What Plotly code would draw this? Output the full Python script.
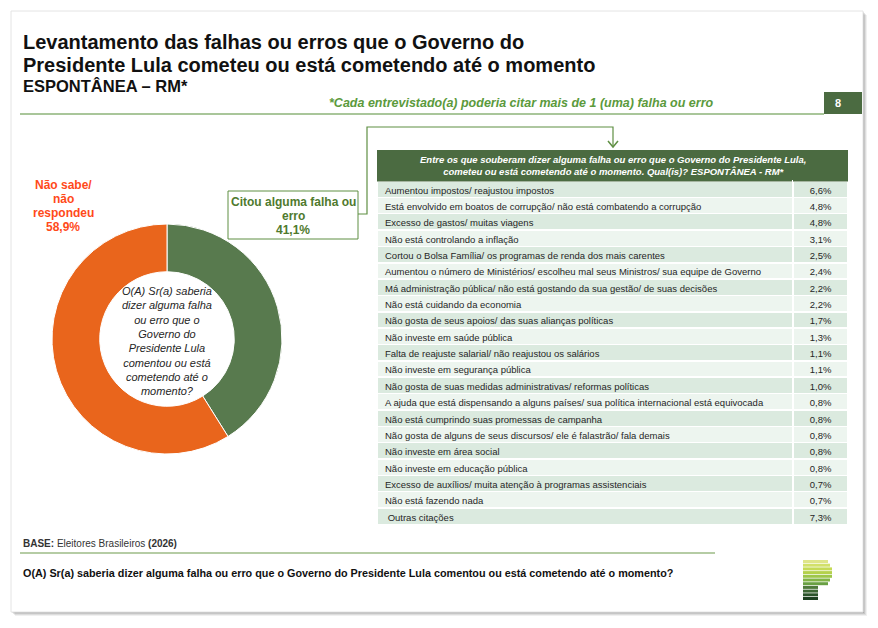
import plotly.graph_objects as go

W, H = 878, 628

# ---------------- data ----------------
pie_labels = ["Citou alguma falha ou erro", "Não sabe/ não respondeu"]
pie_values = [41.1, 58.9]

categories = [
    "Aumentou impostos/ reajustou impostos",
    "Está envolvido em boatos de corrupção/ não está combatendo a corrupção",
    "Excesso de gastos/ muitas viagens",
    "Não está controlando a inflação",
    "Cortou o Bolsa Família/ os programas de renda dos mais carentes",
    "Aumentou o número de Ministérios/ escolheu mal seus Ministros/ sua equipe de Governo",
    "Má administração pública/ não está gostando da sua gestão/ de suas decisões",
    "Não está cuidando da economia",
    "Não gosta de seus apoios/ das suas alianças políticas",
    "Não investe em saúde pública",
    "Falta de reajuste salarial/ não reajustou os salários",
    "Não investe em segurança pública",
    "Não gosta de suas medidas administrativas/ reformas políticas",
    "A ajuda que está dispensando a alguns países/ sua política internacional está equivocada",
    "Não está cumprindo suas promessas de campanha",
    "Não gosta de alguns de seus discursos/ ele é falastrão/ fala demais",
    "Não investe em área social",
    "Não investe em educação pública",
    "Excesso de auxílios/ muita atenção à programas assistenciais",
    "Não está fazendo nada",
    " Outras citações",
]
values = [6.6, 4.8, 4.8, 3.1, 2.5, 2.4, 2.2, 2.2, 1.7, 1.3, 1.1, 1.1, 1.0,
          0.8, 0.8, 0.8, 0.8, 0.8, 0.7, 0.7, 7.3]

table_header = ("Entre os que souberam dizer alguma falha ou erro que o Governo do Presidente Lula,<br>"
                "cometeu ou está cometendo até o momento. Qual(is)? ESPONTÂNEA - RM*")

donut_center_lines = ["O(A) Sr(a) saberia", "dizer alguma falha", "ou erro que o", "Governo do",
                      "Presidente Lula", "comentou ou está", "cometendo até o", "momento?"]
label_nao_sabe = ["Não sabe/", "não", "respondeu", "58,9%"]
label_citou = ["Citou alguma falha ou", "erro", "41,1%"]

logo_widths = [25, 27, 29, 29, 29, 27, 25, 15, 15, 15, 15]
logo_colors = ["#dfe58a", "#d2e06a", "#c5da55", "#b4d14c", "#9dc64a", "#82b446",
               "#69a043", "#4f7a3c", "#3c6633", "#2b532a", "#1d4021"]

# ---------------- helpers ----------------
def px(x):
    return x / W

def py(y):
    return 1 - y / H

SANS = "Liberation Sans, Arial, sans-serif"
DARK_GREEN = "#4b6b41"
LINE_GREEN = "#5f8f43"

fig = go.Figure()

# ---------------- donut ----------------
cx, cy, r = 167, 339, 115
fig.add_trace(go.Pie(
    labels=pie_labels, values=pie_values, hole=0.585, sort=False,
    direction="clockwise", rotation=0, textinfo="none", showlegend=False,
    marker=dict(colors=["#587a4e", "#e9651c"], line=dict(color="white", width=1)),
    domain=dict(x=[px(cx - r), px(cx + r)], y=[py(cy + r), py(cy - r)]),
    hoverinfo="label+percent",
))

# ---------------- table ----------------
ROW_H = 16.35
HEAD_H = 31
T_TOP = 150
T_BOT = T_TOP + HEAD_H + ROW_H * len(categories) + 4
row_fill = ["#dbeadf" if i % 2 == 0 else "#edf5ef" for i in range(len(categories))]
val_text = [f"{v:.1f}%".replace(".", ",") for v in values]
blank = ["" for _ in categories]

# background cells + header band
fig.add_trace(go.Table(
    domain=dict(x=[px(377), px(849)], y=[py(T_BOT), py(T_TOP)]),
    columnwidth=[417, 55],
    header=dict(values=["", ""], fill_color=DARK_GREEN,
                line=dict(color=DARK_GREEN, width=0.5), height=HEAD_H,
                font=dict(family=SANS, size=9.5, color="white")),
    cells=dict(
        values=[blank, blank],
        fill_color=[row_fill, row_fill],
        line=dict(color="white", width=1.5),
        font=dict(family=SANS, size=9.5, color="#262626"),
        align=["left", "center"], height=ROW_H,
    ),
))
# text layer (slightly raised to centre text in rows)
SHIFT = 2.5
fig.add_trace(go.Table(
    domain=dict(x=[px(377), px(849)], y=[py(T_BOT - SHIFT), py(T_TOP - SHIFT)]),
    columnwidth=[417, 55],
    header=dict(values=["", ""], fill_color="rgba(0,0,0,0)",
                line=dict(color="rgba(0,0,0,0)", width=0), height=HEAD_H,
                font=dict(family=SANS, size=9.5, color="white")),
    cells=dict(
        values=[categories, val_text],
        fill_color="rgba(0,0,0,0)",
        line=dict(color="rgba(0,0,0,0)", width=0),
        font=dict(family=SANS, size=9.5, color="#262626"),
        align=["left", "center"], height=ROW_H,
    ),
))

shapes = []
annotations = []

# card shadow + card
for i, op in enumerate([0.06, 0.08, 0.10, 0.12]):
    d = 4 - i
    shapes.append(dict(type="rect", xref="paper", yref="paper",
                       x0=px(11 + d), x1=px(863 + d), y0=py(612 + d), y1=py(11 + d),
                       fillcolor=f"rgba(0,0,0,{op})", line=dict(width=0), layer="below"))
shapes.append(dict(type="rect", xref="paper", yref="paper",
                   x0=px(11), x1=px(863), y0=py(612), y1=py(11),
                   fillcolor="white", line=dict(color="#e4e4e4", width=1), layer="below"))

# table header text
annotations.append(dict(text="<b><i>" + table_header + "</i></b>", x=px(613), y=py(165.5),
                        xanchor="center", yanchor="middle", align="center",
                        font=dict(family=SANS, size=9.5, color="white")))

# header line and page box
shapes.append(dict(type="line", xref="paper", yref="paper", x0=px(20), x1=px(824),
                   y0=py(114), y1=py(114), line=dict(color="#8db378", width=1.5)))
shapes.append(dict(type="rect", xref="paper", yref="paper", x0=px(824), x1=px(862),
                   y0=py(114), y1=py(92), fillcolor=DARK_GREEN, line=dict(width=0)))
annotations.append(dict(text="<b>8</b>", x=px(843), y=py(103), yanchor="middle",
                        font=dict(family=SANS, size=11, color="white")))

# bottom line
shapes.append(dict(type="line", xref="paper", yref="paper", x0=px(20), x1=px(715),
                   y0=py(553), y1=py(553), line=dict(color="#9dbb86", width=1.5)))

# green label box
shapes.append(dict(type="rect", xref="paper", yref="paper", x0=px(228), x1=px(358),
                   y0=py(239), y1=py(191), fillcolor="white",
                   line=dict(color=LINE_GREEN, width=1)))
# connector
shapes.append(dict(type="path", xref="paper", yref="paper",
                   path=f"M {px(358)},{py(214)} L {px(367)},{py(214)} L {px(367)},{py(127)} "
                        f"L {px(613)},{py(127)} L {px(613)},{py(147)}",
                   line=dict(color=LINE_GREEN, width=1.2)))
shapes.append(dict(type="path", xref="paper", yref="paper",
                   path=f"M {px(608)},{py(141)} L {px(613)},{py(147)} L {px(618)},{py(141)}",
                   line=dict(color=LINE_GREEN, width=1.5)))

# logo bars
ly = 560
for w, c in zip(logo_widths, logo_colors):
    shapes.append(dict(type="rect", xref="paper", yref="paper", x0=px(803), x1=px(803 + w),
                       y0=py(ly + 3), y1=py(ly), fillcolor=c, line=dict(width=0)))
    ly += 3.7

# ---------------- texts ----------------
annotations += [
    dict(text="<b>Levantamento das falhas ou erros que o Governo do</b>",
         x=px(21), y=py(42), xanchor="left", yanchor="middle",
         font=dict(family=SANS, size=20, color="#111111")),
    dict(text="<b>Presidente Lula cometeu ou está cometendo até o momento</b>",
         x=px(21), y=py(65), xanchor="left", yanchor="middle",
         font=dict(family=SANS, size=20, color="#111111")),
    dict(text="<b>ESPONTÂNEA – RM*</b>", x=px(21), y=py(86), xanchor="left", yanchor="middle",
         font=dict(family=SANS, size=16.5, color="#111111")),
    dict(text="<b><i>*Cada entrevistado(a) poderia citar mais de 1 (uma) falha ou erro</i></b>",
         x=px(716), y=py(103), xanchor="right", yanchor="middle",
         font=dict(family=SANS, size=12.5, color="#5b9a3c")),
    dict(text="<b>BASE:</b> Eleitores Brasileiros <b>(2026)</b>", x=px(21), y=py(543),
         xanchor="left", yanchor="middle", font=dict(family=SANS, size=10, color="#333333")),
    dict(text="<b>O(A) Sr(a) saberia dizer alguma falha ou erro que o Governo do Presidente Lula "
              "comentou ou está cometendo até o momento?</b>",
         x=px(21), y=py(573), xanchor="left", yanchor="middle",
         font=dict(family=SANS, size=10.8, color="#111111")),
    dict(text="<i>" + "<br>".join(donut_center_lines) + "</i>", x=px(cx), y=py(cy + 2),
         xanchor="center", yanchor="middle", align="center",
         font=dict(family=SANS, size=11, color="#262626")),
]
for i, t in enumerate(label_nao_sabe):
    annotations.append(dict(text=f"<b>{t}</b>", x=px(63), y=py(185 + 14 * i),
                            xanchor="center", yanchor="middle",
                            font=dict(family=SANS, size=12, color="#ff4a1a")))
for i, t in enumerate(label_citou):
    annotations.append(dict(text=f"<b>{t}</b>", x=px(293), y=py(202 + 14 * i),
                            xanchor="center", yanchor="middle",
                            font=dict(family=SANS, size=12, color="#4f7a2e")))

for a in annotations:
    a.setdefault("xref", "paper")
    a.setdefault("yref", "paper")
    a.setdefault("showarrow", False)

fig.update_layout(
    width=W, height=H, margin=dict(l=0, r=0, t=0, b=0),
    paper_bgcolor="white", plot_bgcolor="white",
    shapes=shapes, annotations=annotations, showlegend=False,
)

fig.write_html("out.html", config={"displayModeBar": False},
               post_script="document.body.style.margin='0';document.body.style.overflow='hidden';")
